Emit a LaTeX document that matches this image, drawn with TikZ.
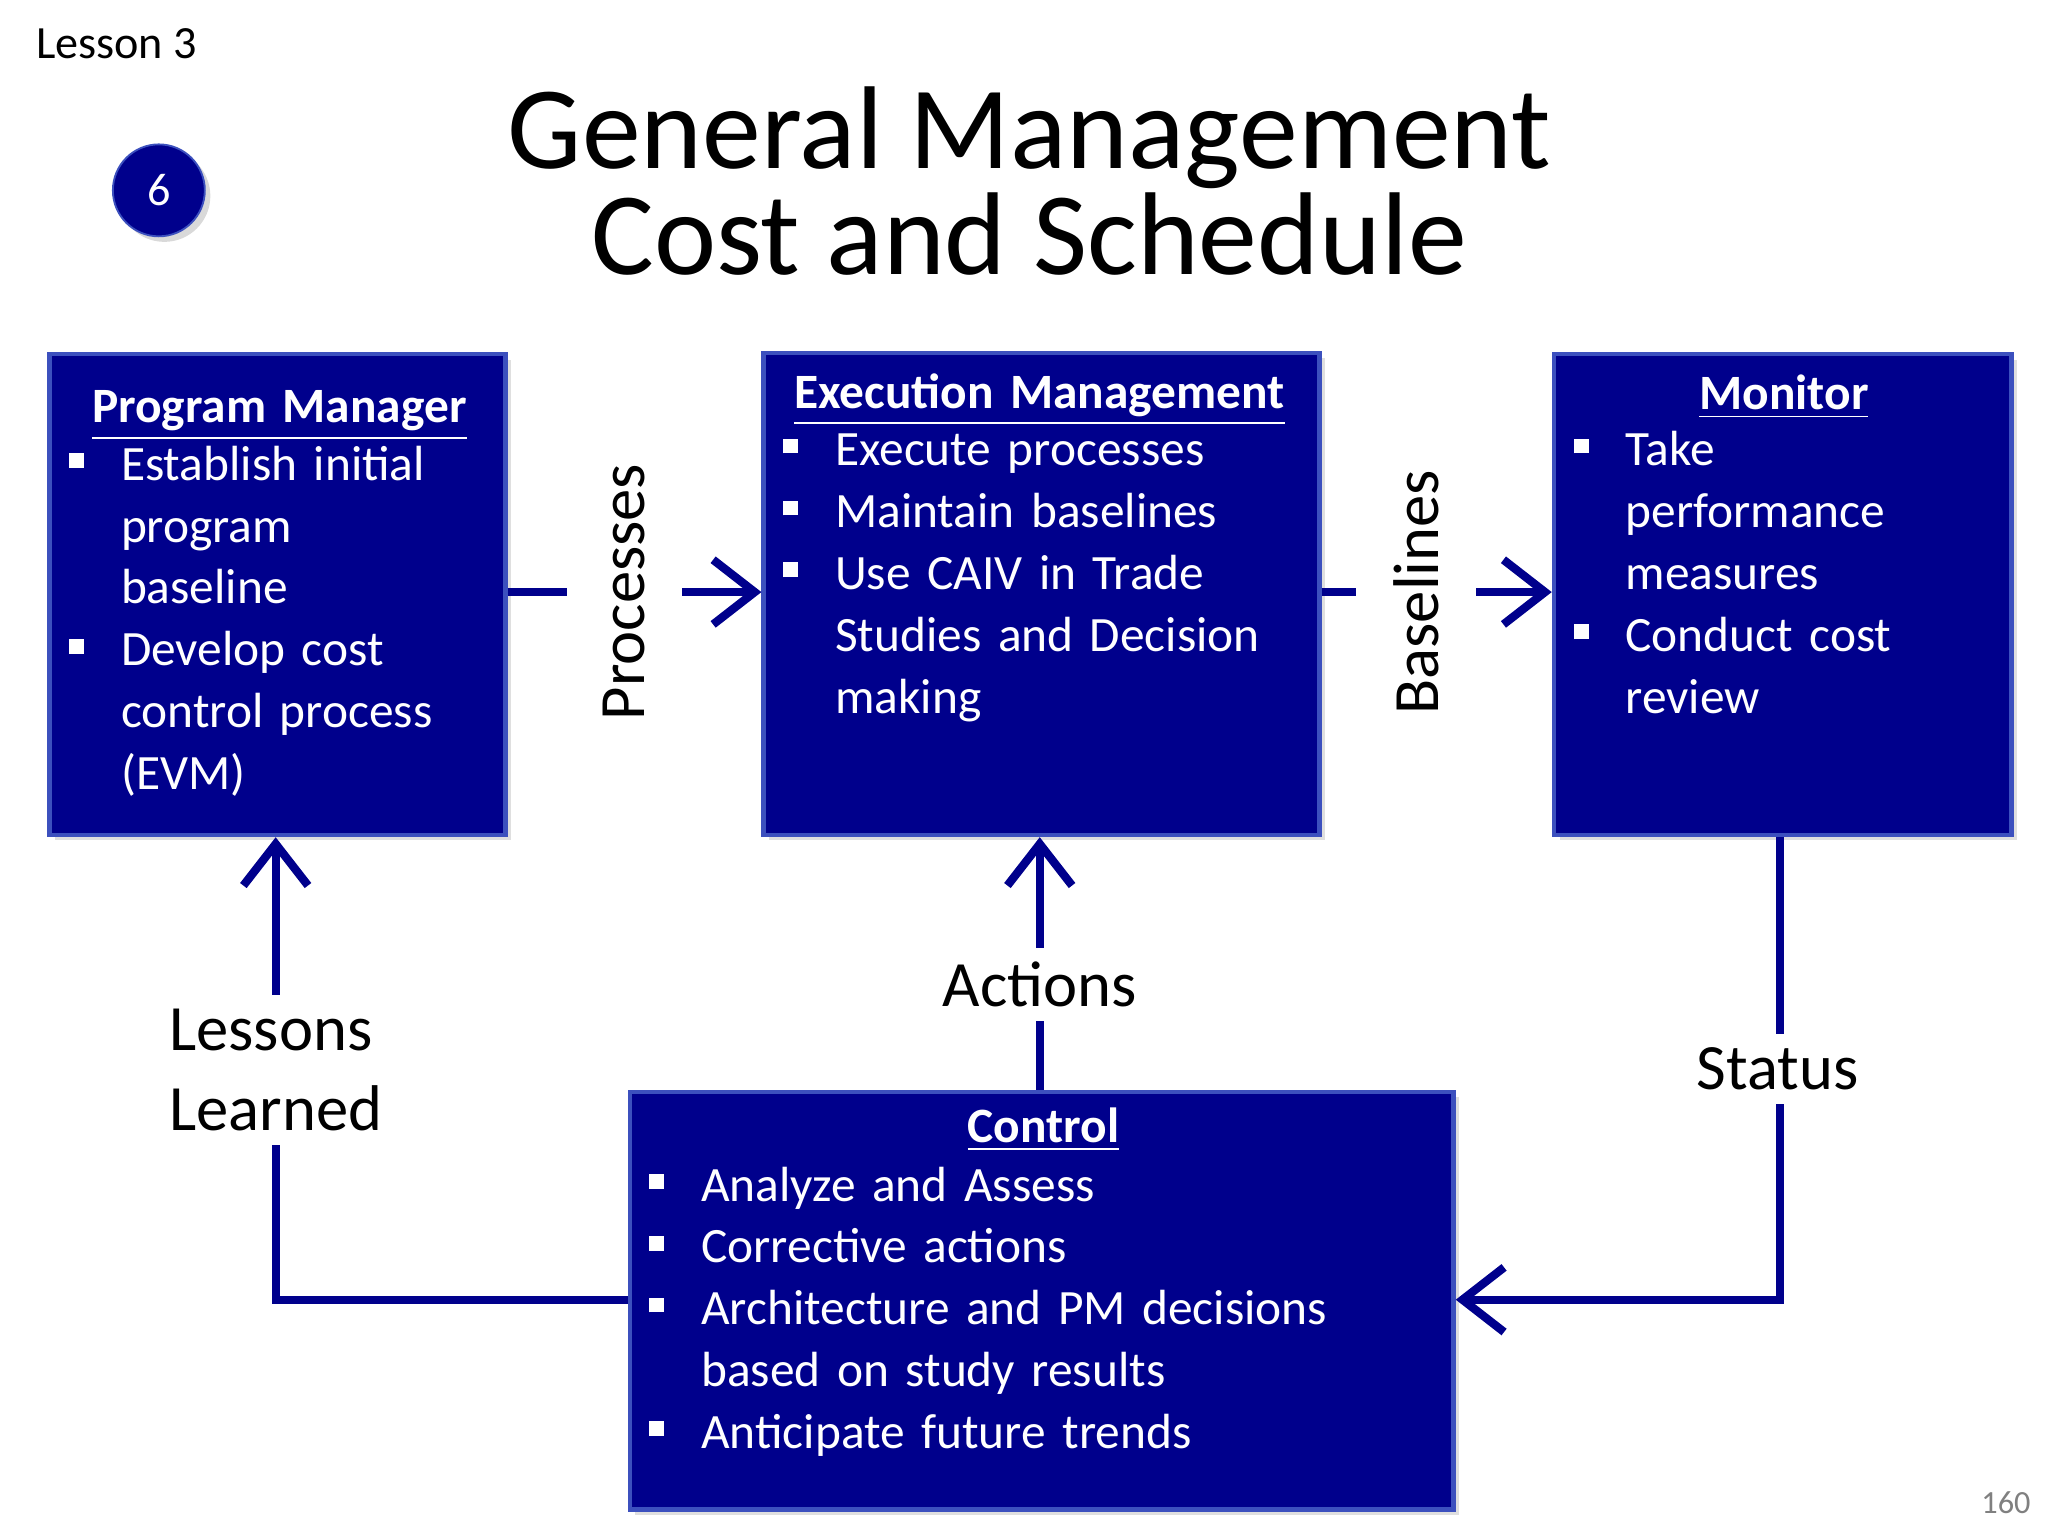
\documentclass[tikz,border=0pt]{standalone}
\usepackage{fontspec}
\setmainfont{Carlito}
\usetikzlibrary{arrows.meta,shadows}
\definecolor{nblue}{RGB}{0,0,140}
\definecolor{nborder}{RGB}{60,80,190}
\newcommand\bl[1]{\par\noindent\hangindent=1.05em\hangafter=1\makebox[1.05em][l]{\rule[0.25em]{0.3em}{0.3em}}#1}
\tikzset{
 box/.style={draw=nborder,line width=1pt,fill=nblue,anchor=north west,inner sep=0pt,drop shadow={opacity=0.25,shadow xshift=1.2pt,shadow yshift=-1.2pt}},
 btext/.style={anchor=north west,text=white,inner sep=0pt,font=\fontsize{10.7}{13.4}\selectfont},
 conn/.style={draw=nblue,line width=1.8pt},
 arr/.style={conn,-{Straight Barb[length=9pt,width=14pt,line width=1.8pt]}},
 lab/.style={fill=white,inner sep=3pt,font=\fontsize{14}{17.5}\selectfont},
}
\begin{document}
\begin{tikzpicture}[x=0.01cm,y=-0.01cm]
\useasboundingbox (0,0) rectangle (1560,1170);
\node[anchor=west,font=\fontsize{10}{12}\selectfont] (les) at (15,33) {Lesson 3};
\node[circle,fill=nblue,draw=nborder,minimum size=0.7cm,text=white,font=\fontsize{10}{12}\selectfont,drop shadow={opacity=0.3,shadow xshift=1.2pt,shadow yshift=-1.2pt}] (six) at (121,145) {6};
\node[align=center,font=\fontsize{25.5}{23}\selectfont] (title) at (784,138) {General Management\\Cost and Schedule};
% boxes
\node[box,minimum width=3.47cm,minimum height=3.66cm] (pm) at (36,268) {};
\node[box,minimum width=4.23cm,minimum height=3.67cm] (ex) at (580,267) {};
\node[box,minimum width=3.48cm,minimum height=3.66cm] (mo) at (1182,268) {};
\node[box,minimum width=6.27cm,minimum height=3.18cm] (co) at (478,830) {};
% texts
\node[btext,text width=3.3cm] (pmh) at (47,297) {\centering\textbf{\underline{Program Manager}}\par};
\node[btext,text width=3.2cm] (pmt) at (52,318) {\raggedright\bl{Establish initial\newline program\newline baseline}\bl{Develop cost\newline control process\newline (EVM)}\par};
\node[btext,text width=4.0cm] (exh) at (591,284) {\centering\textbf{\underline{Execution Management}}\par};
\node[btext,text width=4.0cm] (ext) at (596,307) {\raggedright\bl{Execute processes}\bl{Maintain baselines}\bl{Use CAIV in Trade\newline Studies and Decision\newline making}\par};
\node[btext,text width=3.2cm] (moh) at (1198,285) {\centering\textbf{\underline{Monitor}}\par};
\node[btext,text width=3.2cm] (mot) at (1198,307) {\raggedright\bl{Take\newline performance\newline measures}\bl{Conduct cost\newline review}\par};
\node[btext,text width=6.0cm] (coh) at (494,843) {\centering\textbf{\underline{Control}}\par};
\node[btext,text width=6.0cm] (cot) at (494,867) {\raggedright\bl{Analyze and Assess}\bl{Corrective actions}\bl{Architecture and PM decisions\newline based on study results}\bl{Anticipate future trends}\par};
% connectors
\draw[arr] (pm.east |- 0,451) -- (ex.west |- 0,451) node[pos=0.46,lab,rotate=90,inner sep=8pt] (proc) {Processes};
\draw[arr] (ex.east |- 0,451) -- (mo.west |- 0,451) node[pos=0.41,lab,rotate=90,inner sep=8pt] (base) {Baselines};
\coordinate (mc) at (1356,990);
\draw[arr] (mo.south -| 1356,0) -- (mc) -- (co.east |- mc);
\node[lab] (st) at (1354,814) {Status};
\draw[arr] (co.north -| 792,0) -- (ex.south -| 792,0);
\node[lab] (act) at (792,750) {Actions};
\coordinate (lc) at (210,990);
\draw[arr] (co.west |- lc) -- (lc) -- (pm.south -| 210,0);
\node[lab,align=left] (ll) at (210,815) {Lessons\\Learned};
\node[text=gray,font=\fontsize{7}{8}\selectfont] (pg) at (1528,1145) {160};
\end{tikzpicture}
\end{document}
